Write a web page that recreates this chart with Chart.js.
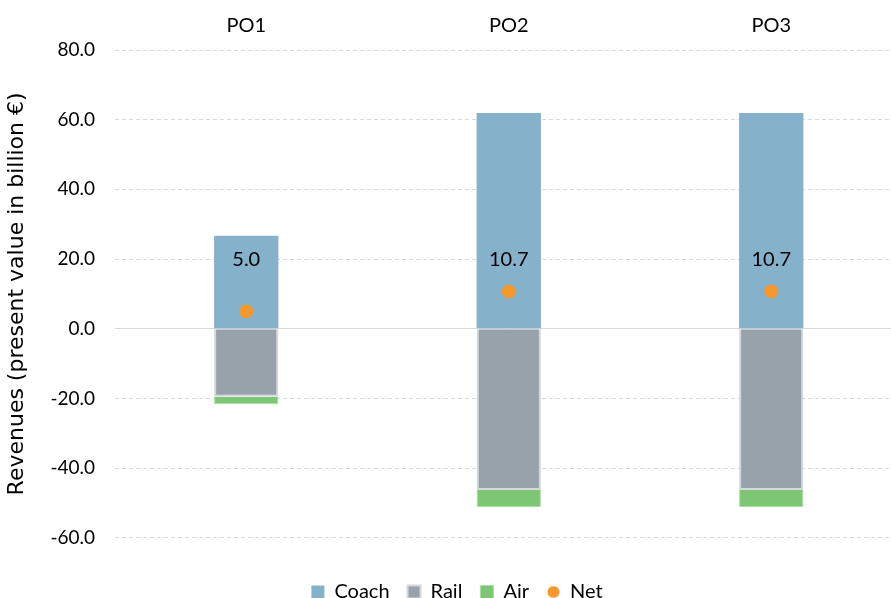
<!DOCTYPE html>
<html>
<head>
<meta charset="utf-8">
<script src="https://cdn.jsdelivr.net/npm/chart.js@4.4.0/dist/chart.umd.min.js"></script>
<style>
  html, body { margin: 0; padding: 0; background: #fff; overflow: hidden; }
  #wrap { width: 910px; height: 598px; }
</style>
</head>
<body>
<div id="wrap"><canvas id="revenueChart"></canvas></div>
<script>
// values (billion €)
const categories = ['PO1', 'PO2', 'PO3'];
const coach = [26.7, 61.9, 61.9];
const rail = [-19.5, -46.3, -46.3];
const air = [-2.2, -4.9, -4.9];
const net = [5.0, 10.7, 10.7];
const yTicks = [-60, -40, -20, 0, 20, 40, 60, 80];

const FONT = 'Lato, "Open Sans", sans-serif';
const NET_COLOR = '#F7982F';
const NET_LABEL_LEVEL = 20; // the Net values sit on the 20.0 line

// small round marker for the Net legend entry
const netDot = document.createElement('canvas');
netDot.width = 13;
netDot.height = 13;
const dctx = netDot.getContext('2d');
dctx.fillStyle = NET_COLOR;
dctx.beginPath();
dctx.arc(6.5, 6.5, 6, 0, Math.PI * 2);
dctx.fill();

// writes the Net value above each dot
const netLabels = {
    id: 'netLabels',
    afterDatasetsDraw(chart) {
        const meta = chart.getDatasetMeta(3);
        const y = chart.scales.y.getPixelForValue(NET_LABEL_LEVEL);
        const ctx = chart.ctx;
        ctx.save();
        ctx.font = '20px ' + FONT;
        ctx.fillStyle = '#000';
        ctx.textAlign = 'center';
        ctx.textBaseline = 'middle';
        meta.data.forEach((pt, i) => {
            ctx.fillText(net[i].toFixed(1), pt.x, y);
        });
        ctx.restore();
    }
};

new Chart('revenueChart', {
    type: 'bar',
    data: {
        labels: categories,
        datasets: [{
            label: 'Coach',
            data: coach,
            backgroundColor: '#85B1CB',
            borderWidth: 0,
            stack: 'rev',
            order: 1,
            pointStyle: 'rect'
        }, {
            label: 'Rail',
            data: rail,
            backgroundColor: '#97A2AB',
            borderColor: '#D5D8DB',
            borderWidth: 2,
            stack: 'rev',
            order: 1,
            pointStyle: 'rect'
        }, {
            label: 'Air',
            data: air,
            backgroundColor: '#7DC673',
            borderColor: '#A9DBA2',
            borderWidth: 1,
            stack: 'rev',
            order: 1,
            pointStyle: 'rect'
        }, {
            type: 'line',
            label: 'Net',
            data: net,
            showLine: false,
            stack: 'net',
            order: 0,
            backgroundColor: NET_COLOR,
            borderColor: NET_COLOR,
            pointStyle: 'circle',
            pointRadius: 6.5,
            pointHoverRadius: 6.5
        }]
    },
    options: {
        responsive: true,
        maintainAspectRatio: false,
        animation: false,
        layout: { padding: { left: 4, right: 0, top: 10, bottom: -14 } },
        datasets: {
            bar: { categoryPercentage: 1, barPercentage: 0.245 }
        },
        plugins: {
            tooltip: { enabled: false },
            legend: {
                position: 'bottom',
                title: { display: true, text: ' ', font: { size: 1 }, padding: { top: 13, bottom: 12 } },
                labels: {
                    usePointStyle: true,
                    boxWidth: 13,
                    boxHeight: 13,
                    padding: 18,
                    color: '#000',
                    font: { family: FONT, size: 20 },
                    sort: (a, b) => a.datasetIndex - b.datasetIndex,
                    generateLabels: chart => Chart.defaults.plugins.legend.labels.generateLabels(chart)
                        .map(l => l.text === 'Net' ? Object.assign(l, { pointStyle: netDot }) : l)
                }
            }
        },
        scales: {
            x: {
                stacked: true,
                position: 'top',
                grid: { display: false },
                border: { display: false },
                ticks: { color: '#000', font: { family: FONT, size: 20 }, padding: 4 }
            },
            y: {
                stacked: true,
                min: -60,
                max: 80,
                afterBuildTicks: scale => {
                    scale.ticks = yTicks.map(v => ({ value: v }));
                },
                grid: {
                    color: '#D9D9D9',
                    lineWidth: 1,
                    drawTicks: false
                },
                border: {
                    display: false,
                    dash: ctx => (ctx.tick && ctx.tick.value === 0) ? [] : [4, 3]
                },
                ticks: {
                    color: '#000',
                    padding: 20,
                    font: { family: FONT, size: 19 },
                    callback: v => v.toFixed(1)
                },
                title: {
                    display: true,
                    text: 'Revenues (present value in billion €)',
                    color: '#000',
                    font: { family: '"DejaVu Sans", sans-serif', size: 22 },
                    padding: { top: 0, bottom: 0 }
                }
            }
        }
    },
    plugins: [netLabels]
});
</script>
</body>
</html>
